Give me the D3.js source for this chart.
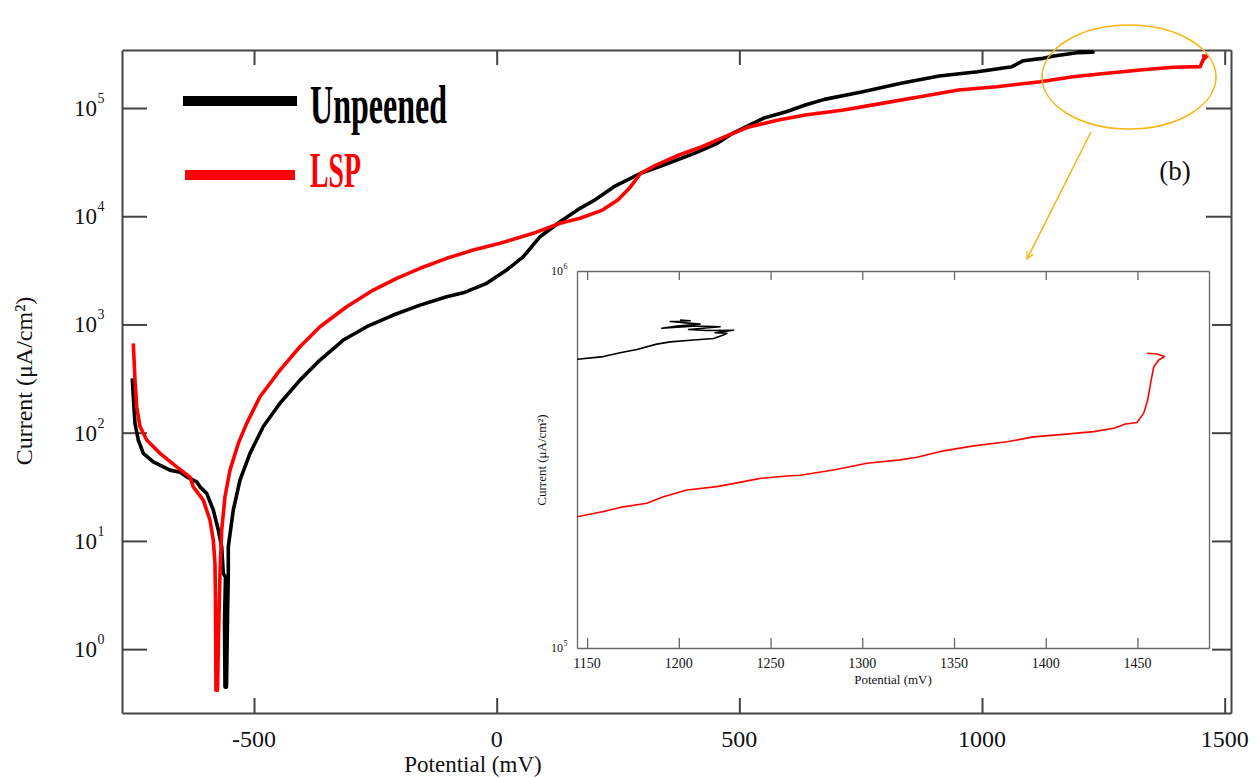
<!DOCTYPE html>
<html>
<head>
<meta charset="utf-8">
<script src="https://cdn.jsdelivr.net/npm/d3@7"></script>
<style>
  html, body { margin: 0; padding: 0; background: #fff; }
  svg { display: block; }
  text { font-family: "Liberation Serif", "Times New Roman", serif; fill: #111; }
</style>
</head>
<body>
<svg id="chart" width="1260" height="778"></svg>
<script>
// Potentiodynamic polarisation curves (potential in mV, current density in µA/cm²)
const unpeenedPotential = [-750.8, -748.7, -745.2, -738.4, -728.1, -707.5, -673.2, -652.5, -638.7, -618.1, -611.3, -597.5, -583.9, -573.6, -566.6, -563.3, -558.8, -560.8, -559.8, -556.7, -554.6, -553.0, -553.0, -542.7, -528.9, -508.3, -480.9, -446.5, -405.3, -364.1, -316.0, -267.8, -213.0, -158.0, -103.0, -68.8, -20.6, 20.6, 54.9, 89.3, 130.5, 171.7, 202.1, 241.8, 296.7, 344.1, 407.2, 454.6, 486.1, 517.6, 549.2, 596.5, 635.9, 675.3, 754.2, 833.1, 911.8, 990.7, 1061.8, 1085.3, 1125.7, 1148.4, 1195.8, 1228.8, 1200.0, 1228.0];
const unpeenedCurrent = [318, 215, 122, 85.5, 64.4, 53.8, 45.1, 43.2, 39.1, 35.2, 31.6, 27.5, 19.3, 12.6, 8.83, 5.01, 4.62, 1.85, 0.446, 0.446, 1.98, 4.83, 8.83, 19.3, 36.5, 64.4, 114, 187, 306, 469, 718, 953, 1222, 1510, 1803, 1960, 2399, 3184, 4227, 6471, 8892, 11830, 14130, 18750, 24950, 29720, 38110, 47210, 58340, 68230, 80350, 92470, 106700, 120200, 141600, 169000, 197700, 216300, 241000, 273500, 287700, 302700, 324300, 327300, 335000, 332700];

const lspPotential = [-748.7, -745.2, -741.7, -734.9, -721.1, -693.7, -659.3, -631.8, -625.1, -604.5, -590.8, -583.9, -580.4, -579.4, -578.4, -575.3, -573.3, -571.2, -570.1, -566.6, -559.8, -549.5, -532.4, -515.1, -487.7, -446.5, -405.3, -364.1, -309.1, -254.2, -206.0, -158.0, -103.0, -48.1, 6.9, 75.5, 130.5, 171.7, 218.0, 249.5, 273.2, 296.7, 328.3, 375.7, 423.1, 470.5, 517.6, 580.7, 635.9, 714.8, 793.6, 872.3, 951.4, 1030.3, 1119.6, 1187.5, 1257.6, 1325.6, 1393.6, 1449.3, 1455.4, 1463.7, 1453.4];
const lspCurrent = [668, 306, 173, 114, 85.5, 64.4, 48.4, 38.9, 31.6, 23.8, 15.6, 10.2, 6.19, 2.84, 0.418, 0.418, 1.21, 3.03, 5.04, 12.6, 25.6, 45.1, 79.6, 122, 215, 379, 622, 953, 1459, 2080, 2667, 3304, 4083, 4875, 5623, 6950, 8610, 9572, 11400, 14130, 18110, 24950, 29720, 36810, 43850, 54330, 66370, 77450, 86100, 95940, 110400, 127100, 146600, 157400, 175000, 194500, 209400, 224400, 237700, 241000, 278000, 302700, 302700];

// Enlarged view of the high-potential end
const insetUnpeenedPotential = [1144.7, 1158.9, 1168.0, 1177.1, 1188.0, 1195.3, 1208.0, 1218.9, 1224.3, 1226.2, 1219.8, 1229.8, 1215.3, 1205.3, 1222.5, 1209.8, 1190.7, 1198.9, 1211.6, 1195.3, 1206.2, 1200.7];
const insetUnpeenedCurrent = [583400, 592900, 606700, 619400, 639700, 648600, 656200, 662200, 676100, 683900, 685500, 696600, 695000, 699800, 711200, 714500, 704700, 714500, 722800, 734500, 737900, 741300];
const insetLspPotential = [1144.7, 1158.9, 1168.0, 1182.6, 1191.6, 1204.4, 1220.7, 1231.7, 1244.4, 1258.9, 1266.2, 1284.3, 1302.6, 1320.7, 1329.8, 1344.3, 1360.7, 1378.9, 1393.4, 1408.0, 1426.2, 1437.1, 1443.5, 1449.8, 1453.4, 1455.6, 1457.5, 1458.9, 1461.6, 1464.7, 1460.7, 1455.3];
const insetLspCurrent = [222800, 230100, 236000, 242100, 251800, 262400, 267900, 274200, 281800, 285800, 287100, 296500, 309000, 315500, 320600, 333400, 343600, 352400, 363100, 368100, 375000, 382800, 392600, 396300, 419800, 455000, 514000, 557200, 580800, 592900, 602600, 605300];

const xTicks = [-500, 0, 500, 1000, 1500];
const yDecades = [0, 1, 2, 3, 4, 5];
const insetXTicks = [1150, 1200, 1250, 1300, 1350, 1400, 1450];
const seriesNames = ["Unpeened", "LSP"];
const seriesColors = ["#000000", "#ff0000"];

const svg = d3.select("#chart");
const defs = svg.append("defs");

// ---- main panel ----
const x = d3.scaleLinear().domain([-772, 1513]).range([122, 1231]);
const y = d3.scaleLog().domain([Math.pow(10, -0.59), Math.pow(10, 5.536)]).range([713, 50]);

defs.append("clipPath").attr("id", "mainClip")
  .append("rect").attr("x", 122).attr("y", 50).attr("width", 1109).attr("height", 663);

function styleAxis(g, color, width) {
  g.selectAll(".domain").attr("stroke", color).attr("stroke-width", width);
  g.selectAll(".tick line").attr("stroke", color).attr("stroke-width", width);
  g.selectAll(".tick text").remove();
}

const decadeValues = yDecades.map(p => Math.pow(10, p));

svg.append("g").attr("transform", "translate(0,713)")
  .call(d3.axisBottom(x).tickValues(xTicks).tickSizeInner(-15).tickSizeOuter(0).tickFormat(""))
  .call(g => styleAxis(g, "#444", 2));
svg.append("g").attr("transform", "translate(0,50)")
  .call(d3.axisTop(x).tickValues(xTicks).tickSizeInner(-15).tickSizeOuter(0).tickFormat(""))
  .call(g => styleAxis(g, "#444", 2));
svg.append("g").attr("transform", "translate(122,0)")
  .call(d3.axisLeft(y).tickValues(decadeValues).tickSizeInner(-25).tickSizeOuter(0).tickFormat(""))
  .call(g => styleAxis(g, "#444", 2));
svg.append("g").attr("transform", "translate(1231,0)")
  .call(d3.axisRight(y).tickValues(decadeValues).tickSizeInner(-25).tickSizeOuter(0).tickFormat(""))
  .call(g => styleAxis(g, "#444", 2));

// x tick labels
svg.append("g").selectAll("text").data(xTicks).join("text")
  .attr("x", d => x(d)).attr("y", 747)
  .attr("text-anchor", "middle").attr("font-size", 24)
  .text(d => String(d));

// y tick labels as powers of ten
const yLab = svg.append("g").selectAll("g").data(yDecades).join("g");
yLab.append("text")
  .attr("x", 97).attr("y", d => y(Math.pow(10, d)) + 8)
  .attr("text-anchor", "end").attr("font-size", 23)
  .text("10");
yLab.append("text")
  .attr("x", 97.5).attr("y", d => y(Math.pow(10, d)) - 5)
  .attr("text-anchor", "start").attr("font-size", 14)
  .text(d => String(d));

// axis titles
svg.append("text").attr("x", 473).attr("y", 772)
  .attr("text-anchor", "middle").attr("font-size", 23)
  .text("Potential (mV)");
svg.append("text")
  .attr("transform", "translate(32,381) rotate(-90)")
  .attr("text-anchor", "middle").attr("font-size", 24)
  .text("Current (μA/cm²)");

// curves
const mainLine = d3.line().x(d => x(d[0])).y(d => y(d[1]));
const mainSeries = [
  d3.zip(unpeenedPotential, unpeenedCurrent),
  d3.zip(lspPotential, lspCurrent)
];
svg.append("g").attr("clip-path", "url(#mainClip)")
  .selectAll("path").data(mainSeries).join("path")
  .attr("d", mainLine)
  .attr("fill", "none")
  .attr("stroke", (d, i) => seriesColors[i])
  .attr("stroke-width", 3.6)
  .attr("stroke-linejoin", "round")
  .attr("stroke-linecap", "butt");

// legend
const legendRows = [
  { x1: 183, x2: 297, ly: 101, tx: 310, ty: 123, size: 54, len: 137 },
  { x1: 185, x2: 295, ly: 175, tx: 310, ty: 187, size: 50, len: 51 }
];
const leg = svg.append("g").selectAll("g").data(legendRows).join("g");
leg.append("line")
  .attr("x1", d => d.x1).attr("x2", d => d.x2)
  .attr("y1", d => d.ly).attr("y2", d => d.ly)
  .attr("stroke", (d, i) => seriesColors[i]).attr("stroke-width", 10);
leg.append("text")
  .attr("x", d => d.tx).attr("y", d => d.ty)
  .attr("font-size", d => d.size).attr("font-weight", "bold")
  .attr("textLength", d => d.len).attr("lengthAdjust", "spacingAndGlyphs")
  .style("fill", (d, i) => seriesColors[i])
  .text((d, i) => seriesNames[i]);

// highlighted region and pointer
svg.append("ellipse")
  .attr("cx", 1129).attr("cy", 77).attr("rx", 87).attr("ry", 52)
  .attr("fill", "none").attr("stroke", "#f6b717").attr("stroke-width", 1.6);
defs.append("marker").attr("id", "arrowHead")
  .attr("viewBox", "0 0 10 10").attr("refX", 9).attr("refY", 5)
  .attr("markerWidth", 9).attr("markerHeight", 9).attr("markerUnits", "userSpaceOnUse")
  .attr("orient", "auto")
  .append("path").attr("d", "M1,1 L9,5 L1,9")
  .attr("fill", "none").attr("stroke", "#f6b717").attr("stroke-width", 1.4);
svg.append("line")
  .attr("x1", 1091).attr("y1", 132).attr("x2", 1027).attr("y2", 259)
  .attr("stroke", "#f6b717").attr("stroke-width", 1.6)
  .attr("marker-end", "url(#arrowHead)");

svg.append("text").attr("x", 1175).attr("y", 180)
  .attr("text-anchor", "middle").attr("font-size", 27)
  .text("(b)");

// ---- inset panel ----
const inset = svg.append("g");
inset.append("rect")
  .attr("x", 538).attr("y", 260).attr("width", 674).attr("height", 430)
  .attr("fill", "#fff");

const ix = d3.scaleLinear().domain([1144.5, 1489]).range([577, 1209]);
const iy = d3.scaleLog().domain([1e5, 1e6]).range([648, 271]);

defs.append("clipPath").attr("id", "insetClip")
  .append("rect").attr("x", 577).attr("y", 271).attr("width", 632).attr("height", 377);

inset.append("g").attr("transform", "translate(0,648)")
  .call(d3.axisBottom(ix).tickValues(insetXTicks).tickSizeInner(-10).tickSizeOuter(0).tickFormat(""))
  .call(g => styleAxis(g, "#666", 1.3));
inset.append("g").attr("transform", "translate(0,271)")
  .call(d3.axisTop(ix).tickValues(insetXTicks).tickSizeInner(-9).tickSizeOuter(0).tickFormat(""))
  .call(g => styleAxis(g, "#666", 1.3));
inset.append("g").attr("transform", "translate(577,0)")
  .call(d3.axisLeft(iy).tickValues([]).tickSizeOuter(0))
  .call(g => styleAxis(g, "#666", 1.3));
inset.append("g").attr("transform", "translate(1209,0)")
  .call(d3.axisRight(iy).tickValues([]).tickSizeOuter(0))
  .call(g => styleAxis(g, "#666", 1.3));

inset.append("g").selectAll("text").data(insetXTicks).join("text")
  .attr("x", d => ix(d)).attr("y", 668)
  .attr("text-anchor", "middle").attr("font-size", 14)
  .text(d => String(d));

const insetDecades = [5, 6];
const iyLab = inset.append("g").selectAll("g").data(insetDecades).join("g");
iyLab.append("text")
  .attr("x", 563).attr("y", d => iy(Math.pow(10, d)) + 4)
  .attr("text-anchor", "end").attr("font-size", 12)
  .text("10");
iyLab.append("text")
  .attr("x", 563.5).attr("y", d => iy(Math.pow(10, d)) - 2)
  .attr("text-anchor", "start").attr("font-size", 8)
  .text(d => String(d));

inset.append("text").attr("x", 893).attr("y", 684)
  .attr("text-anchor", "middle").attr("font-size", 13)
  .text("Potential (mV)");
inset.append("text")
  .attr("transform", "translate(546,460) rotate(-90)")
  .attr("text-anchor", "middle").attr("font-size", 13)
  .text("Current (μA/cm²)");

const insetLine = d3.line().x(d => ix(d[0])).y(d => iy(d[1]));
const insetSeries = [
  d3.zip(insetUnpeenedPotential, insetUnpeenedCurrent),
  d3.zip(insetLspPotential, insetLspCurrent)
];
inset.append("g").attr("clip-path", "url(#insetClip)")
  .selectAll("path").data(insetSeries).join("path")
  .attr("d", insetLine)
  .attr("fill", "none")
  .attr("stroke", (d, i) => seriesColors[i])
  .attr("stroke-width", 1.6)
  .attr("stroke-linejoin", "round");
</script>
</body>
</html>
